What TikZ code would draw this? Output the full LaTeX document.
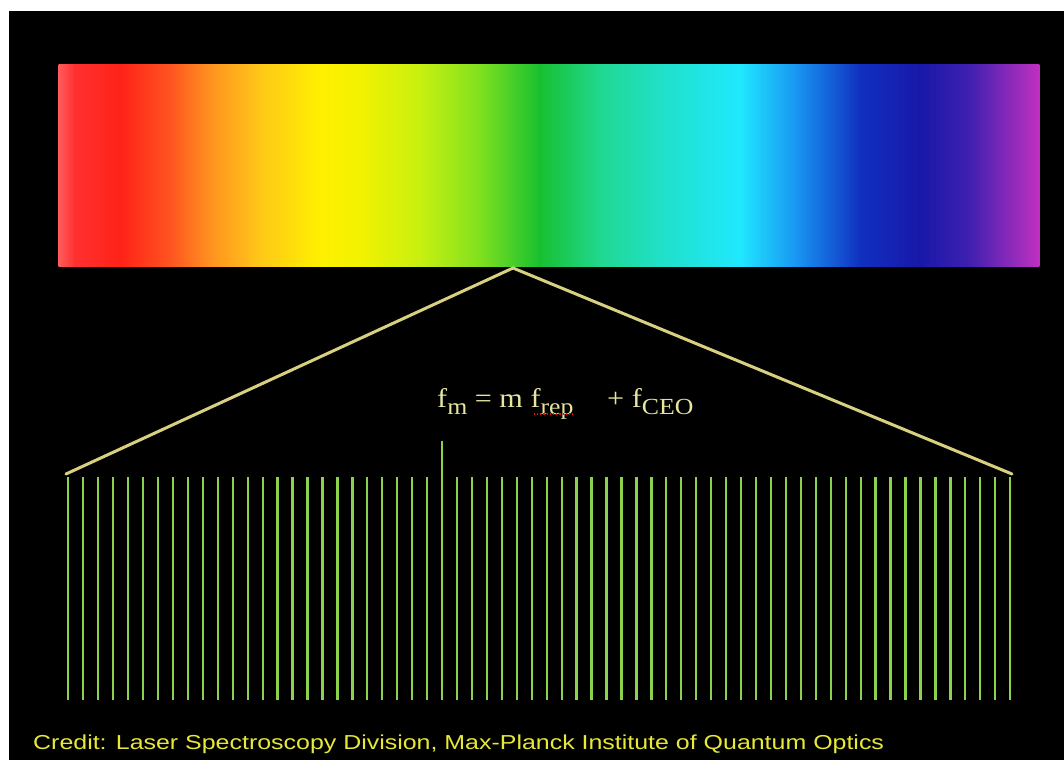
\documentclass[tikz,border=0pt]{standalone}
\usepackage{fontspec}
\setmainfont[FakeStretch=1.12]{Liberation Serif}
\newfontfamily\credfont[FakeStretch=1.235]{Liberation Sans}
\definecolor{s0}{HTML}{FF5A5A}
\definecolor{s1}{HTML}{FF3030}
\definecolor{s2}{HTML}{FF2218}
\definecolor{s3}{HTML}{FF5420}
\definecolor{s4}{HTML}{FF9220}
\definecolor{s5}{HTML}{FFC818}
\definecolor{s6}{HTML}{FFF000}
\definecolor{s7}{HTML}{F2F200}
\definecolor{s8}{HTML}{C8F010}
\definecolor{s9}{HTML}{80E020}
\definecolor{s10}{HTML}{18C030}
\definecolor{s11}{HTML}{20D890}
\definecolor{s12}{HTML}{20E0C8}
\definecolor{s13}{HTML}{20E8FF}
\definecolor{s14}{HTML}{1890F0}
\definecolor{s15}{HTML}{1030C0}
\definecolor{s16}{HTML}{1818A8}
\definecolor{s17}{HTML}{4020B0}
\definecolor{s18}{HTML}{C030C0}
\definecolor{formulacol}{HTML}{E6E6A0}
\definecolor{conecol}{HTML}{D8D080}
\definecolor{combcol}{HTML}{8CD24A}
\definecolor{creditcol}{HTML}{E8E838}
\newcommand{\lowsub}[1]{\raisebox{-0.26em}{\fontsize{23}{23}\selectfont #1}}
\begin{document}
\begin{tikzpicture}[x=1pt,y=-1pt,
  cone/.style={draw=conecol, line width=3pt, line cap=round},
  tooth/.style={draw=combcol, line width=2.3pt},
  formula/.style={text=formulacol, inner sep=0pt, anchor=base west, font=\fontsize{27}{30}\selectfont},
  credit/.style={text=creditcol, inner sep=0pt, anchor=base west, font=\credfont\fontsize{20.2}{24}\selectfont}]
\useasboundingbox (0,0) rectangle (1064,760);
\fill[white] (0,0) rectangle (1064,760);
\fill[black] (9,11) rectangle (1064,760);
% spectrum
\foreach \xa/\xb/\ca/\cb in {59/75/s0/s1, 75/120/s1/s2, 120/170/s2/s3, 170/210/s3/s4, 210/260/s4/s5, 260/320/s5/s6, 320/360/s6/s7, 360/420/s7/s8, 420/480/s8/s9, 480/540/s9/s10, 540/600/s10/s11, 600/660/s11/s12, 660/740/s12/s13, 740/800/s13/s14, 800/860/s14/s15, 860/920/s15/s16, 920/970/s16/s17, 970/1039/s17/s18}
  \shade[left color=\ca, right color=\cb] (\xa-0.3,64) rectangle (\xb+0.3,266);
% cone
\coordinate (apex) at (513,268);
\coordinate (left) at (66,474);
\coordinate (right) at (1012,474);
\draw[cone] (left) -- (apex) -- (right);
% comb
\foreach \i in {0,...,63} {
  \pgfmathsetmacro{\xx}{68.3+14.95*\i}
  \ifnum\i=25
    \draw[tooth] (\xx,441) -- (\xx,700);
  \else
    \draw[tooth] (\xx,477) -- (\xx,700);
  \fi
}
% formula
\node[formula] (fm) at (437,407) {f\lowsub{m} = m f\lowsub{rep}};
\node[formula] (fceo) at (607,407) {+ f\lowsub{CEO}};
\draw[red, line width=1.2pt, dotted] (fm.base east) ++(-40,7) -- ++(40,0);
% credit
\node[credit] (credit) at (33,749.5) {Credit: Laser Spectroscopy Division, Max-Planck Institute of Quantum Optics};
\end{tikzpicture}
\end{document}
